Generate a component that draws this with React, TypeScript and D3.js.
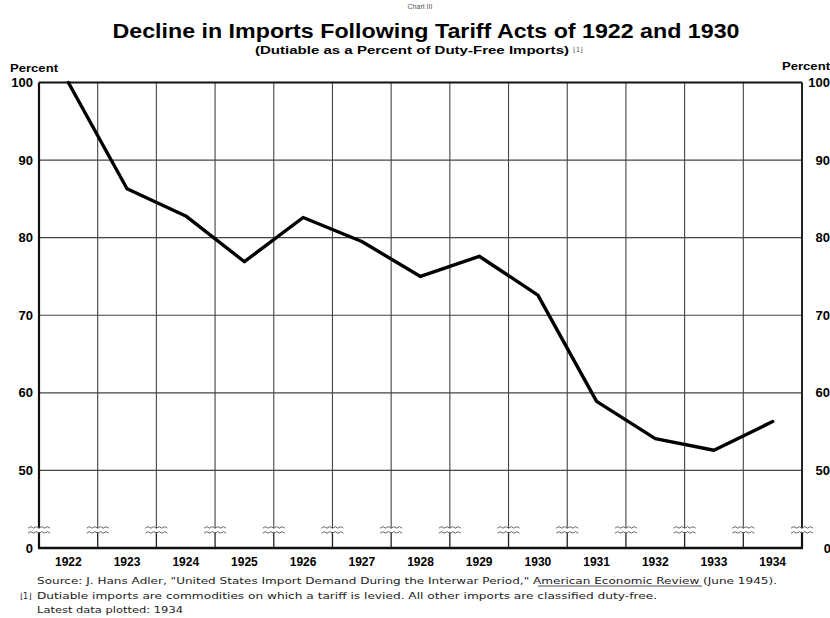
import * as d3 from 'd3';
import { useMemo } from 'react';

const years = ['1922', '1923', '1924', '1925', '1926', '1927', '1928', '1929', '1930', '1931', '1932', '1933', '1934'];
// Dutiable as a percent of duty-free imports
const ratio = [100, 86.3, 82.8, 76.9, 82.6, 79.5, 75.0, 77.6, 72.6, 58.9, 54.1, 52.6, 56.3];
const yTicks = [100, 90, 80, 70, 60, 50];
const gridValues = [90, 80, 70, 60, 50];

const WIDTH = 830;
const HEIGHT = 618;
const BOUNDS = { left: 39, right: 802, top: 82.5, bottom: 548 };
const BREAK_VALUE = 42.3;

const labelFont = '"Liberation Sans", Arial, sans-serif';
const noteFont = '"DejaVu Sans", "Liberation Sans", sans-serif';

export default function App() {
  const xScale = useMemo(() => d3.scaleBand().domain(years).range([BOUNDS.left, BOUNDS.right]).padding(0), []);
  const yScale = useMemo(() => d3.scaleLinear().domain([40, 100]).range([BOUNDS.bottom, BOUNDS.top]), []);

  const bw = xScale.bandwidth();
  const linePath = d3.line<number>()
    .x((_, i) => (xScale(years[i]) ?? 0) + bw / 2)
    .y((d) => yScale(d))(ratio);

  // vertical rules: band edges, including both axes
  const vLines = years.map((y) => xScale(y) ?? 0).concat([BOUNDS.right]);
  const yBreak = yScale(BREAK_VALUE);

  const wave = (cx: number, cy: number) => {
    let p = `M${cx - 11},${cy}`;
    for (let k = 0; k < 4; k++) p += ` q2.75,-3 5.5,0`;
    return p;
  };

  return (
    <svg width={WIDTH} height={HEIGHT} style={{ position: 'absolute', left: 0, top: 0, background: '#fff' }}>
      <rect width={WIDTH} height={HEIGHT} fill="#fff" />

      {/* titles */}
      <text x={420} y={9} textAnchor="middle" fontSize={7} fill="#555" fontFamily={labelFont}>Chart III</text>
      <text x={426} y={38} textAnchor="middle" fontSize={20} fontWeight="bold" fontFamily={labelFont}
        textLength={627} lengthAdjust="spacingAndGlyphs">
        Decline in Imports Following Tariff Acts of 1922 and 1930
      </text>
      <text x={412} y={54} textAnchor="middle" fontSize={10} fontWeight="bold" fontFamily={labelFont}
        textLength={314} lengthAdjust="spacingAndGlyphs">
        (Dutiable as a Percent of Duty-Free Imports)
      </text>
      <text x={573} y={52} fontSize={7} fill="#555" fontFamily={labelFont}>⌊1⌋</text>

      {/* horizontal grid */}
      {gridValues.map((v) => (
        <line key={v} x1={BOUNDS.left} x2={BOUNDS.right} y1={yScale(v)} y2={yScale(v)} stroke="#444" strokeWidth={1.1} />
      ))}

      {/* vertical grid with axis break */}
      {vLines.slice(1, -1).map((x, i) => (
        <g key={i}>
          <line x1={x} x2={x} y1={BOUNDS.top} y2={yBreak - 2} stroke="#444" strokeWidth={1.1} />
          <line x1={x} x2={x} y1={yBreak + 2} y2={BOUNDS.bottom} stroke="#222" strokeWidth={1.3} />
        </g>
      ))}

      {/* frame */}
      <line x1={BOUNDS.left} x2={BOUNDS.right} y1={BOUNDS.top} y2={BOUNDS.top} stroke="#111" strokeWidth={2} />
      <line x1={BOUNDS.left} x2={BOUNDS.left} y1={BOUNDS.top} y2={yBreak - 2} stroke="#111" strokeWidth={2.2} />
      <line x1={BOUNDS.left} x2={BOUNDS.left} y1={yBreak + 2} y2={BOUNDS.bottom} stroke="#111" strokeWidth={2.2} />
      <line x1={BOUNDS.right} x2={BOUNDS.right} y1={BOUNDS.top} y2={yBreak - 2} stroke="#222" strokeWidth={2} />
      <line x1={BOUNDS.right} x2={BOUNDS.right} y1={yBreak + 2} y2={BOUNDS.bottom} stroke="#111" strokeWidth={2.2} />
      <line x1={BOUNDS.left - 1} x2={BOUNDS.right + 1} y1={BOUNDS.bottom} y2={BOUNDS.bottom} stroke="#111" strokeWidth={2.5} />

      {/* break marks */}
      {vLines.map((x, i) => (
        <g key={`b${i}`} fill="none" stroke="#555" strokeWidth={0.9}>
          <path d={wave(x, yBreak - 2)} />
          <path d={wave(x, yBreak + 3)} />
        </g>
      ))}

      {/* data line */}
      <path d={linePath ?? ''} fill="none" stroke="#000" strokeWidth={3.4} strokeLinejoin="round" strokeLinecap="round" />

      {/* y labels left and right */}
      <text x={10} y={72} fontSize={11} fontWeight="bold" fontFamily={labelFont} textLength={48} lengthAdjust="spacingAndGlyphs">Percent</text>
      <text x={830} y={70} textAnchor="end" fontSize={11} fontWeight="bold" fontFamily={labelFont} textLength={48} lengthAdjust="spacingAndGlyphs">Percent</text>
      {yTicks.map((v) => (
        <g key={v} fontSize={13} fontWeight="bold" fontFamily={labelFont}>
          <text x={33} y={yScale(v) + 4.5} textAnchor="end">{v}</text>
          <text x={830} y={yScale(v) + 4.5} textAnchor="end">{v}</text>
        </g>
      ))}
      <text x={33} y={BOUNDS.bottom + 4.5} textAnchor="end" fontSize={13} fontWeight="bold" fontFamily={labelFont}>0</text>
      <text x={831} y={BOUNDS.bottom + 4.5} textAnchor="end" fontSize={13} fontWeight="bold" fontFamily={labelFont}>0</text>

      {/* x labels */}
      {years.map((yr) => (
        <text key={yr} x={(xScale(yr) ?? 0) + bw / 2} y={566} textAnchor="middle" fontSize={12} fontWeight="bold" fontFamily={labelFont}>{yr}</text>
      ))}

      {/* notes */}
      <g fontSize={8.5} fontFamily={noteFont} fill="#222">
        <text x={37} y={584} textLength={740} lengthAdjust="spacingAndGlyphs">
          Source: J. Hans Adler, "United States Import Demand During the Interwar Period," American Economic Review (June 1945).
        </text>
        <line x1={538} x2={702} y1={586} y2={586} stroke="#222" strokeWidth={0.8} />
        <text x={20} y={599} fontSize={8}>⌊1⌋</text>
        <text x={37} y={599} textLength={620} lengthAdjust="spacingAndGlyphs">
          Dutiable imports are commodities on which a tariff is levied. All other imports are classified duty-free.
        </text>
        <text x={37} y={613} textLength={146} lengthAdjust="spacingAndGlyphs">Latest data plotted: 1934</text>
      </g>
    </svg>
  );
}
